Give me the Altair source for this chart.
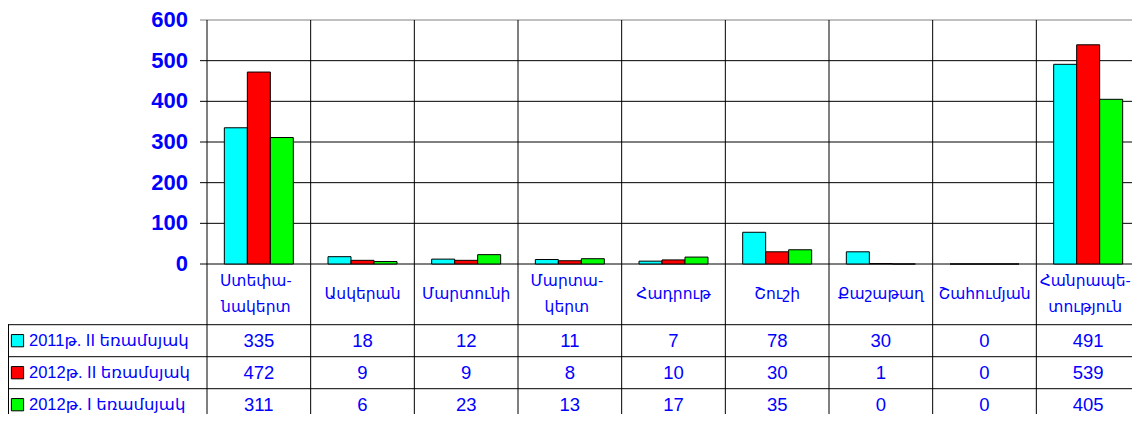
import altair as alt
import pandas as pd

categories = ["Ստեփա-\nնակերտ", "Ասկերան", "Մարտունի", "Մարտա-\nկերտ", "Հադրութ",
              "Շուշի", "Քաշաթաղ", "Շահումյան", "Հանրապե-\nտություն"]
series = ["2011թ. II եռամսյակ", "2012թ. II եռամսյակ", "2012թ. I եռամսյակ"]
values_2011_II = [335, 18, 12, 11, 7, 78, 30, 0, 491]
values_2012_II = [472, 9, 9, 8, 10, 30, 1, 0, 539]
values_2012_I = [311, 6, 23, 13, 17, 35, 0, 0, 405]
colors = ["#00FFFF", "#FF0000", "#00FF00"]
y_ticks = [0, 100, 200, 300, 400, 500, 600]

all_values = [values_2011_II, values_2012_II, values_2012_I]
rows = []
for s, vals in zip(series, all_values):
    for c, v in zip(categories, vals):
        rows.append({"cat": c, "series": s, "value": v})
df = pd.DataFrame(rows)
df_cats = pd.DataFrame({"cat": categories})
df_series = pd.DataFrame({"series": series})
df_ticks = pd.DataFrame({"tick": y_ticks})

FONT = "Liberation Sans, Arial, DejaVu Sans"
BLUE = "#0000ff"

xs = alt.Scale(domain=categories, range=[199, 1132], paddingInner=0, paddingOuter=0)
xo = alt.Scale(domain=series, paddingInner=0, paddingOuter=0.754)
ys = alt.Scale(domain=[0, 600], range=[256, 12], nice=False, zero=True)
yr = alt.Scale(domain=series, range=[316.7, 412.7], paddingInner=0, paddingOuter=0)
cs = alt.Scale(domain=series, range=colors)

grid = alt.Chart(df_ticks).mark_rule(strokeWidth=1).encode(
    y=alt.Y("tick:Q", scale=ys, axis=None),
    x=alt.value(192), x2=alt.value(1132),
    color=alt.condition("datum.tick == 600", alt.value("#808080"), alt.value("#000000")),
)

ylabels = alt.Chart(df_ticks).mark_text(
    align="right", baseline="middle", fontSize=22, fontWeight="bold", color=BLUE, font=FONT
).encode(
    y=alt.Y("tick:Q", scale=ys, axis=None),
    x=alt.value(180),
    text=alt.Text("tick:Q"),
)

bars = alt.Chart(df).mark_bar(stroke="black", strokeWidth=1).encode(
    x=alt.X("cat:N", scale=xs, axis=None, sort=categories),
    xOffset=alt.XOffset("series:N", scale=xo, sort=series),
    y=alt.Y("value:Q", scale=ys, axis=None),
    color=alt.Color("series:N", scale=cs, legend=None),
)

seps = alt.Chart(df_cats).mark_rule(color="black", strokeWidth=1).encode(
    x=alt.X("cat:N", scale=xs, axis=None, bandPosition=0),
    y=alt.value(12), y2=alt.value(416),
)

catlabels_one = alt.Chart(df_cats).transform_filter(
    "indexof(datum.cat, '\\n') < 0"
).mark_text(
    fontSize=15.5, color=BLUE, font=FONT, baseline="middle", align="center"
).encode(
    x=alt.X("cat:N", scale=xs, axis=None, bandPosition=0.5),
    y=alt.value(286),
    text="cat:N",
)

catlabels_two = alt.Chart(df_cats).transform_filter(
    "indexof(datum.cat, '\\n') >= 0"
).mark_text(
    lineBreak="\n", fontSize=15.5, color=BLUE, font=FONT, baseline="middle", align="center",
    lineHeight=26, dx=-3
).encode(
    x=alt.X("cat:N", scale=xs, axis=None, bandPosition=0.5),
    y=alt.value(272.5),
    text="cat:N",
)

rowlines = alt.Chart(df_series).mark_rule(color="black", strokeWidth=1).encode(
    y=alt.Y("series:N", scale=yr, axis=None, bandPosition=0),
    x=alt.value(0), x2=alt.value(1132),
)

leftborder = alt.Chart(df_series).mark_rule(color="black", strokeWidth=1).encode(
    x=alt.value(0.5), y=alt.value(316.7), y2=alt.value(416),
)

tabletext = alt.Chart(df).mark_text(
    fontSize=18.5, color=BLUE, font=FONT, baseline="middle", align="center"
).encode(
    x=alt.X("cat:N", scale=xs, axis=None, bandPosition=0.5),
    y=alt.Y("series:N", scale=yr, axis=None, bandPosition=0.5),
    text="value:Q",
)

squares = alt.Chart(df_series).mark_square(
    size=150, stroke="black", strokeWidth=1, opacity=1, filled=True
).encode(
    x=alt.value(9.5),
    y=alt.Y("series:N", scale=yr, axis=None, bandPosition=0.5),
    color=alt.Color("series:N", scale=cs, legend=None),
)

legtext = alt.Chart(df_series).mark_text(
    align="left", baseline="middle", fontSize=16.5, color=BLUE, font=FONT
).encode(
    x=alt.value(21),
    y=alt.Y("series:N", scale=yr, axis=None, bandPosition=0.5),
    text="series:N",
)

chart = alt.layer(
    grid, bars, seps, rowlines, leftborder, ylabels, catlabels_one, catlabels_two,
    tabletext, squares, legtext
).resolve_scale(y="independent").properties(
    width=1124, height=406, autosize=alt.AutoSizeParams(type="none"), padding=0
).configure_view(stroke=None)

chart.save("out.html", embed_options={"renderer": "svg", "actions": False})
